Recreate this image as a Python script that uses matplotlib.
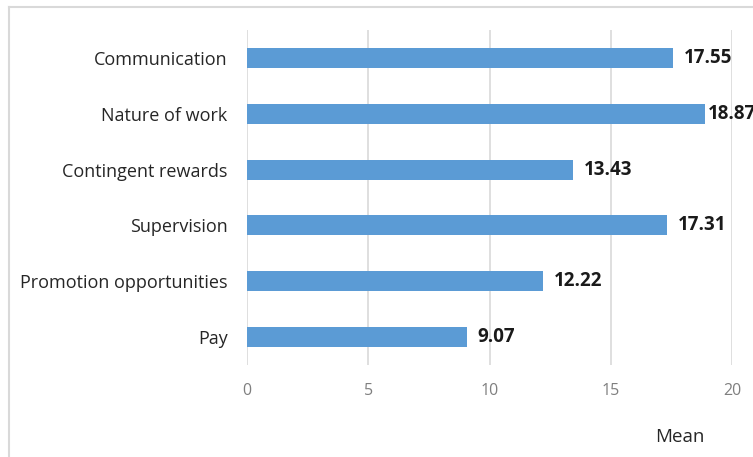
import numpy as np
import matplotlib.pyplot as plt
from matplotlib.lines import Line2D

plt.rcParams['font.family'] = ['Open Sans', 'DejaVu Sans']

categories = ['Communication', 'Nature of work', 'Contingent rewards',
              'Supervision', 'Promotion opportunities', 'Pay']
means = [17.55, 18.87, 13.43, 17.31, 12.22, 9.07]
x_ticks = [0, 5, 10, 15, 20]

W, H = 753, 457
fig = plt.figure(figsize=(W / 100, H / 100), dpi=100)
ax = fig.add_axes([247 / W, 1 - 365 / H, (732 - 247) / W, (365 - 30) / H])

y = np.arange(len(categories))
ax.barh(y, means, height=0.36, color='#5B9BD5', zorder=3)
for yi, v in zip(y, means):
    # labels close to the right edge get squeezed against the bar, like Excel does
    gap = 0.45 if v < 18.5 else 0.15
    ax.text(v + gap, yi, f'{v:.2f}', va='center', ha='left',
            fontsize=13.5, fontweight='bold', color='#1a1a1a', clip_on=False)

ax.set_yticks(y)
ax.set_yticklabels(categories, fontsize=13, color='#262626')
ax.set_ylim(len(categories) - 0.5, -0.5)

ax.set_xlim(0, 20)
ax.set_xticks(x_ticks)
ax.set_xticklabels([str(t) for t in x_ticks], fontsize=11.5, color='#7f7f7f')
ax.xaxis.grid(True, color='#d9d9d9', linewidth=1.2, zorder=0)
ax.tick_params(axis='both', length=0)
ax.tick_params(axis='y', pad=14)
ax.tick_params(axis='x', pad=13)
for s in ax.spines.values():
    s.set_visible(False)

fig.text(680 / W, 1 - 437 / H, 'Mean', ha='center', va='center',
         fontsize=13.5, color='#262626')

# chart border (only left and top visible in the crop)
fig.add_artist(Line2D([8.5 / W, 8.5 / W], [0, 1 - 7 / H], color='#d9d9d9', lw=1.5))
fig.add_artist(Line2D([8.5 / W, 1], [1 - 7 / H, 1 - 7 / H], color='#d9d9d9', lw=1.5))

fig.savefig('out.png', dpi=100)
